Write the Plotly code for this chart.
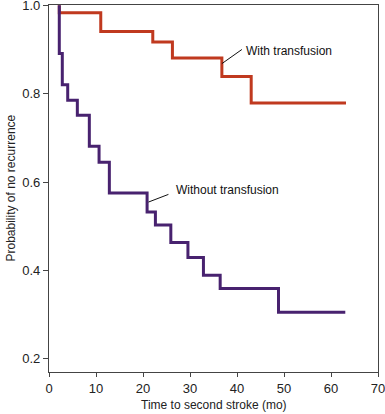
import plotly.graph_objects as go

# Kaplan-Meier style step data (time in months, probability of no recurrence)
with_time = [2.19, 2.19, 11.01, 22.08, 26.26, 36.78, 43.02, 63.19]
with_surv = [1.0, 0.983, 0.941, 0.917, 0.881, 0.839, 0.779, 0.779]

without_time = [2.19, 2.19, 2.83, 3.98, 6.03, 8.58, 10.65, 12.84, 20.87, 22.64,
                25.92, 29.56, 32.86, 36.42, 48.83, 63.04]
without_surv = [1.0, 0.891, 0.820, 0.785, 0.751, 0.681, 0.645, 0.575, 0.532, 0.503,
                0.463, 0.429, 0.389, 0.359, 0.305, 0.305]

x_ticks = [0, 10, 20, 30, 40, 50, 60, 70]
y_ticks = [0.2, 0.4, 0.6, 0.8, 1.0]
y_tick_labels = ["0.2", "0.4", "0.6", "0.8", "1.0"]

RED = "#c0391f"
PURPLE = "#48226f"
AXIS = "#444444"
FONT = "Liberation Sans, Arial, sans-serif"

fig = go.Figure()
fig.add_trace(go.Scatter(x=with_time, y=with_surv, mode="lines",
                         line=dict(color=RED, width=3, shape="hv"),
                         showlegend=False, hoverinfo="skip"))
fig.add_trace(go.Scatter(x=without_time, y=without_surv, mode="lines",
                         line=dict(color=PURPLE, width=3, shape="hv"),
                         showlegend=False, hoverinfo="skip"))

# leader lines
fig.add_shape(type="line", xref="x", yref="y", x0=36.78, y0=0.868, x1=41.04, y1=0.900,
              line=dict(color="#111111", width=1))
fig.add_shape(type="line", xref="x", yref="y", x0=21.15, y0=0.5546, x1=25.41, y1=0.572,
              line=dict(color="#111111", width=1))

fig.add_annotation(x=41.5, y=0.8965, xref="x", yref="y", text="With transfusion",
                   showarrow=False, xanchor="left", yanchor="middle",
                   font=dict(family=FONT, size=12, color="#111111"))
fig.add_annotation(x=26.6, y=0.581, xref="x", yref="y", text="Without transfusion",
                   showarrow=False, xanchor="left", yanchor="middle",
                   font=dict(family=FONT, size=12, color="#111111"))

# axis titles
fig.add_annotation(x=0.5, y=-0.0899, xref="paper", yref="paper",
                   text="Time to second stroke (mo)", showarrow=False,
                   xanchor="center", yanchor="middle",
                   font=dict(family=FONT, size=12, color="#222222"))
fig.add_annotation(x=-0.1185, y=0.5, xref="paper", yref="paper",
                   text="Probability of no recurrence", showarrow=False,
                   textangle=-90, xanchor="center", yanchor="middle",
                   font=dict(family=FONT, size=12, color="#222222"))

fig.update_layout(
    width=385, height=414,
    margin=dict(l=49, r=7, t=5, b=42, autoexpand=False),
    paper_bgcolor="white", plot_bgcolor="white",
    font=dict(family=FONT, size=12, color="#222222"),
    xaxis=dict(range=[0, 70], tickvals=x_ticks, ticks="outside", ticklen=4,
               tickwidth=1.2, tickcolor=AXIS, showline=True, linecolor=AXIS,
               linewidth=1.3, mirror=True, showgrid=False, zeroline=False,
               automargin=False, ticklabeloverflow="allow",
               tickfont=dict(size=13)),
    yaxis=dict(range=[0.17, 1.0007], tickvals=y_ticks, ticktext=y_tick_labels,
               ticks="outside", ticklen=5, tickwidth=1.2, tickcolor=AXIS,
               showline=True, linecolor=AXIS, linewidth=1.3, mirror=True,
               showgrid=False, zeroline=False, automargin=False,
               ticklabeloverflow="allow", tickfont=dict(size=13)),
)

fig.write_html(
    "out.html",
    config={"displayModeBar": False},
    post_script="document.body.style.margin='0';document.body.style.overflow='hidden';",
)
